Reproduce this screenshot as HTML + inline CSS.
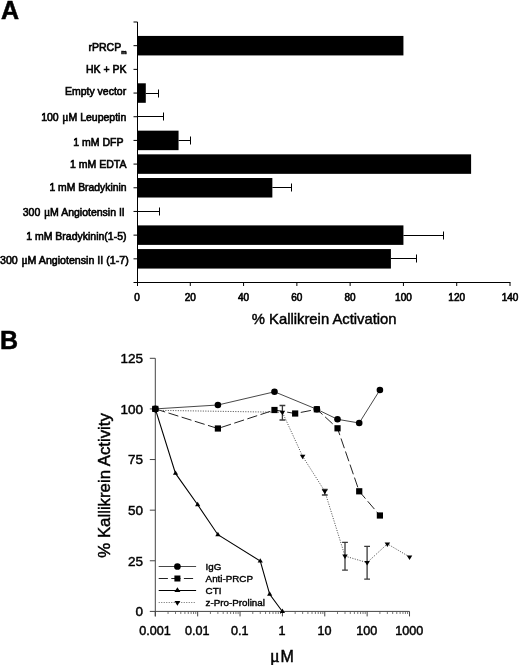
<!DOCTYPE html>
<html><head><meta charset="utf-8"><title>Figure</title>
<style>html,body{margin:0;padding:0;background:#fff}svg{display:block;filter:blur(0.4px)}text{font-family:"Liberation Sans",Arial,sans-serif;fill:#000}.s{stroke:#000;stroke-width:0.6px;paint-order:stroke}.b{stroke:#000;stroke-width:0.5px;paint-order:stroke}.l{stroke:#000;stroke-width:0.4px;paint-order:stroke}.t{stroke:#000;stroke-width:0.45px;paint-order:stroke}.mu{font-family:"Liberation Serif","DejaVu Serif",serif}</style></head><body>
<svg width="520" height="665" viewBox="0 0 520 665">
<rect width="520" height="665" fill="#fff"/>
<text class="b" x="1" y="19" font-size="25" font-weight="bold">A</text>
<g stroke="#000" stroke-width="1" fill="none">
<path d="M137.5 22.0 V286.0"/>
<path d="M133.5 282.5 H510.5"/>
<path d="M133.5 22.00 H137.5"/>
<path d="M133.5 45.68 H137.5"/>
<path d="M133.5 69.36 H137.5"/>
<path d="M133.5 93.05 H137.5"/>
<path d="M133.5 116.73 H137.5"/>
<path d="M133.5 140.41 H137.5"/>
<path d="M133.5 164.09 H137.5"/>
<path d="M133.5 187.77 H137.5"/>
<path d="M133.5 211.45 H137.5"/>
<path d="M133.5 235.14 H137.5"/>
<path d="M133.5 258.82 H137.5"/>
<path d="M190.29 282.5 V286.0"/>
<path d="M243.57 282.5 V286.0"/>
<path d="M296.86 282.5 V286.0"/>
<path d="M350.14 282.5 V286.0"/>
<path d="M403.43 282.5 V286.0"/>
<path d="M456.71 282.5 V286.0"/>
<path d="M510.00 282.5 V286.0"/>
</g>
<rect x="137" y="35.93" width="266.43" height="19.5" fill="#000"/>
<rect x="137" y="83.30" width="8.79" height="19.5" fill="#000"/>
<path d="M145.79 93.50 H158.50 M158.50 89.50 V97.50" stroke="#000" stroke-width="1" fill="none"/>
<path d="M137.00 116.50 H163.50 M163.50 112.50 V120.50" stroke="#000" stroke-width="1" fill="none"/>
<rect x="137" y="130.66" width="41.56" height="19.5" fill="#000"/>
<path d="M178.56 140.50 H190.50 M190.50 136.50 V144.50" stroke="#000" stroke-width="1" fill="none"/>
<rect x="137" y="154.34" width="334.10" height="19.5" fill="#000"/>
<rect x="137" y="178.02" width="135.35" height="19.5" fill="#000"/>
<path d="M272.35 187.50 H291.50 M291.50 183.50 V191.50" stroke="#000" stroke-width="1" fill="none"/>
<path d="M137.00 211.50 H159.50 M159.50 207.50 V215.50" stroke="#000" stroke-width="1" fill="none"/>
<rect x="137" y="225.39" width="266.43" height="19.5" fill="#000"/>
<path d="M403.43 235.50 H443.50 M443.50 231.50 V239.50" stroke="#000" stroke-width="1" fill="none"/>
<rect x="137" y="249.07" width="253.91" height="19.5" fill="#000"/>
<path d="M390.91 258.50 H416.50 M416.50 254.50 V262.50" stroke="#000" stroke-width="1" fill="none"/>
<text class="s" x="126.5" y="50.8" font-size="10.5" text-anchor="end">rPRCP<tspan font-size="6" font-weight="bold" dy="2.9">m</tspan></text>
<text class="s" x="126.5" y="73.1" font-size="10.5" text-anchor="end">HK + PK</text>
<text class="s" x="126.2" y="94.6" font-size="10.5" text-anchor="end">Empty vector</text>
<text class="s" x="126.3" y="120.8" font-size="10.5" text-anchor="end">100 <tspan class="mu" font-size="11.5" dx="0.7">μ</tspan>M Leupeptin</text>
<text class="s" x="123.5" y="145.5" font-size="10.5" text-anchor="end">1 mM DFP</text>
<text class="s" x="126.5" y="167.8" font-size="10.5" text-anchor="end">1 mM EDTA</text>
<text class="s" x="126.5" y="191.3" font-size="10.35" text-anchor="end">1 mM Bradykinin</text>
<text class="s" x="124.8" y="215.5" font-size="10.5" text-anchor="end">300 <tspan class="mu" font-size="11.5" dx="0.7">μ</tspan>M Angiotensin II</text>
<text class="s" x="126.5" y="239.6" font-size="10.5" text-anchor="end">1 mM Bradykinin(1-5)</text>
<text class="s" x="128.7" y="263.9" font-size="10.65" text-anchor="end">300 <tspan class="mu" font-size="11.5" dx="0.7">μ</tspan>M Angiotensin II (1-7)</text>
<text class="s" x="137.00" y="300.8" font-size="10" text-anchor="middle">0</text>
<text class="s" x="190.29" y="300.8" font-size="10" text-anchor="middle">20</text>
<text class="s" x="243.57" y="300.8" font-size="10" text-anchor="middle">40</text>
<text class="s" x="296.86" y="300.8" font-size="10" text-anchor="middle">60</text>
<text class="s" x="350.14" y="300.8" font-size="10" text-anchor="middle">80</text>
<text class="s" x="403.43" y="300.8" font-size="10" text-anchor="middle">100</text>
<text class="s" x="456.71" y="300.8" font-size="10" text-anchor="middle">120</text>
<text class="s" x="510.00" y="300.8" font-size="10" text-anchor="middle">140</text>
<text class="t" x="324.2" y="323.6" font-size="14.8" text-anchor="middle">% Kallikrein Activation</text>
<text class="b" x="0" y="348.6" font-size="25" font-weight="bold">B</text>
<g stroke="#444" stroke-width="1" fill="none">
<path d="M155.3 358.30 V616.4"/>
<path d="M149.8 611.4 H409.52"/>
<path d="M149.8 560.78 H155.3"/>
<path d="M149.8 510.16 H155.3"/>
<path d="M149.8 459.54 H155.3"/>
<path d="M149.8 408.92 H155.3"/>
<path d="M149.8 358.30 H155.3"/>
<path d="M155.30 611.4 V616.4"/>
<path d="M197.67 611.4 V616.4"/>
<path d="M240.04 611.4 V616.4"/>
<path d="M282.41 611.4 V616.4"/>
<path d="M324.78 611.4 V616.4"/>
<path d="M367.15 611.4 V616.4"/>
<path d="M409.52 611.4 V616.4"/>
</g>
<g stroke="#555" stroke-width="0.8" fill="none">
<path d="M168.05 611.4 V614.0"/>
<path d="M175.52 611.4 V614.0"/>
<path d="M180.81 611.4 V614.0"/>
<path d="M184.92 611.4 V614.0"/>
<path d="M188.27 611.4 V614.0"/>
<path d="M191.11 611.4 V614.0"/>
<path d="M193.56 611.4 V614.0"/>
<path d="M195.73 611.4 V614.0"/>
<path d="M210.42 611.4 V614.0"/>
<path d="M217.89 611.4 V614.0"/>
<path d="M223.18 611.4 V614.0"/>
<path d="M227.29 611.4 V614.0"/>
<path d="M230.64 611.4 V614.0"/>
<path d="M233.48 611.4 V614.0"/>
<path d="M235.93 611.4 V614.0"/>
<path d="M238.10 611.4 V614.0"/>
<path d="M252.79 611.4 V614.0"/>
<path d="M260.26 611.4 V614.0"/>
<path d="M265.55 611.4 V614.0"/>
<path d="M269.66 611.4 V614.0"/>
<path d="M273.01 611.4 V614.0"/>
<path d="M275.85 611.4 V614.0"/>
<path d="M278.30 611.4 V614.0"/>
<path d="M280.47 611.4 V614.0"/>
<path d="M295.16 611.4 V614.0"/>
<path d="M302.63 611.4 V614.0"/>
<path d="M307.92 611.4 V614.0"/>
<path d="M312.03 611.4 V614.0"/>
<path d="M315.38 611.4 V614.0"/>
<path d="M318.22 611.4 V614.0"/>
<path d="M320.67 611.4 V614.0"/>
<path d="M322.84 611.4 V614.0"/>
<path d="M337.53 611.4 V614.0"/>
<path d="M345.00 611.4 V614.0"/>
<path d="M350.29 611.4 V614.0"/>
<path d="M354.40 611.4 V614.0"/>
<path d="M357.75 611.4 V614.0"/>
<path d="M360.59 611.4 V614.0"/>
<path d="M363.04 611.4 V614.0"/>
<path d="M365.21 611.4 V614.0"/>
<path d="M379.90 611.4 V614.0"/>
<path d="M387.37 611.4 V614.0"/>
<path d="M392.66 611.4 V614.0"/>
<path d="M396.77 611.4 V614.0"/>
<path d="M400.12 611.4 V614.0"/>
<path d="M402.96 611.4 V614.0"/>
<path d="M405.41 611.4 V614.0"/>
<path d="M407.58 611.4 V614.0"/>
</g>
<text class="t" x="143" y="616.20" font-size="13.5" text-anchor="end">0</text>
<text class="t" x="143" y="565.58" font-size="13.5" text-anchor="end">25</text>
<text class="t" x="143" y="514.96" font-size="13.5" text-anchor="end">50</text>
<text class="t" x="143" y="464.34" font-size="13.5" text-anchor="end">75</text>
<text class="t" x="143" y="413.72" font-size="13.5" text-anchor="end">100</text>
<text class="t" x="143" y="363.10" font-size="13.5" text-anchor="end">125</text>
<text class="t" x="155.00" y="635" font-size="12.6" text-anchor="middle">0.001</text>
<text class="t" x="197.37" y="635" font-size="12.6" text-anchor="middle">0.01</text>
<text class="t" x="239.74" y="635" font-size="12.6" text-anchor="middle">0.1</text>
<text class="t" x="282.11" y="635" font-size="12.6" text-anchor="middle">1</text>
<text class="t" x="324.48" y="635" font-size="12.6" text-anchor="middle">10</text>
<text class="t" x="366.85" y="635" font-size="12.6" text-anchor="middle">100</text>
<text class="t" x="409.22" y="635" font-size="12.6" text-anchor="middle">1000</text>
<text class="t" transform="translate(109.8 485.4) rotate(-90)" font-size="16.8" text-anchor="middle">% Kallikrein Activity</text>
<text class="t" x="270" y="661.5" font-size="16"><tspan class="mu" font-size="18">μ</tspan><tspan dx="0.9">M</tspan></text>
<path d="M155.3 408.9 L217.9 405.0 L274.5 391.8 L316.9 409.3 L337.5 419.3 L359.2 423.0 L379.9 390.0" stroke="#333" stroke-width="0.9" fill="none"/>
<path d="M155.3 408.9 L217.9 428.5 L274.5 410.0 L295.2 413.5 L316.9 409.3 L337.5 428.3 L359.2 491.3 L379.9 515.5" stroke="#222" stroke-width="1" fill="none" stroke-dasharray="10.3 3.5"/>
<path d="M155.3 408.9 L175.5 473.4 L197.7 504.8 L217.9 534.7 L260.3 561.1 L269.7 594.3 L282.4 611.5" stroke="#000" stroke-width="1.1" fill="none"/>
<path d="M155.3 410.3 L282.4 412.3 L302.6 456.3 L324.8 491.3 L345.0 556.1 L367.1 562.6 L387.4 543.9 L409.5 556.9" stroke="#444" stroke-width="0.9" fill="none" stroke-dasharray="1.1 1.4"/>
<path d="M282.4 405.5 V420 M279.5 405.5 h5.8 M279.5 420 h5.8" stroke="#3a3a3a" stroke-width="1.3" fill="none"/>
<path d="M324.8 489.5 V495 M321.9 489.5 h5.8 M321.9 495 h5.8" stroke="#3a3a3a" stroke-width="1.3" fill="none"/>
<path d="M345.0 542.3 V570.1 M342.1 542.3 h5.8 M342.1 570.1 h5.8" stroke="#3a3a3a" stroke-width="1.3" fill="none"/>
<path d="M367.1 546.4 V579.1 M364.2 546.4 h5.8 M364.2 579.1 h5.8" stroke="#3a3a3a" stroke-width="1.3" fill="none"/>
<circle cx="155.3" cy="408.9" r="3.3" fill="#000"/>
<circle cx="217.9" cy="405.0" r="3.3" fill="#000"/>
<circle cx="274.5" cy="391.8" r="3.3" fill="#000"/>
<circle cx="316.9" cy="409.3" r="3.3" fill="#000"/>
<circle cx="337.5" cy="419.3" r="3.3" fill="#000"/>
<circle cx="359.2" cy="423.0" r="3.3" fill="#000"/>
<circle cx="379.9" cy="390.0" r="3.3" fill="#000"/>
<rect x="152.20" y="405.82" width="6.2" height="6.2" fill="#000"/>
<rect x="214.79" y="425.40" width="6.2" height="6.2" fill="#000"/>
<rect x="271.38" y="406.90" width="6.2" height="6.2" fill="#000"/>
<rect x="292.06" y="410.40" width="6.2" height="6.2" fill="#000"/>
<rect x="313.75" y="406.20" width="6.2" height="6.2" fill="#000"/>
<rect x="334.43" y="425.20" width="6.2" height="6.2" fill="#000"/>
<rect x="356.12" y="488.20" width="6.2" height="6.2" fill="#000"/>
<rect x="376.80" y="512.40" width="6.2" height="6.2" fill="#000"/>
<path d="M152.70 410.39 L157.90 410.39 L155.30 405.99Z" fill="#000"/>
<path d="M172.92 474.87 L178.12 474.87 L175.52 470.47Z" fill="#000"/>
<path d="M195.07 506.27 L200.27 506.27 L197.67 501.87Z" fill="#000"/>
<path d="M215.29 536.17 L220.49 536.17 L217.89 531.77Z" fill="#000"/>
<path d="M257.66 562.57 L262.86 562.57 L260.26 558.17Z" fill="#000"/>
<path d="M267.06 595.77 L272.26 595.77 L269.66 591.37Z" fill="#000"/>
<path d="M279.81 612.97 L285.01 612.97 L282.41 608.57Z" fill="#000"/>
<path d="M152.55 408.80 L158.05 408.80 L155.30 413.30Z" fill="#000"/>
<path d="M279.66 410.80 L285.16 410.80 L282.41 415.30Z" fill="#000"/>
<path d="M299.88 454.80 L305.38 454.80 L302.63 459.30Z" fill="#000"/>
<path d="M322.03 489.80 L327.53 489.80 L324.78 494.30Z" fill="#000"/>
<path d="M342.25 554.60 L347.75 554.60 L345.00 559.10Z" fill="#000"/>
<path d="M364.40 561.10 L369.90 561.10 L367.15 565.60Z" fill="#000"/>
<path d="M384.62 542.40 L390.12 542.40 L387.37 546.90Z" fill="#000"/>
<path d="M406.77 555.40 L412.27 555.40 L409.52 559.90Z" fill="#000"/>
<path d="M158.7 566.5 H196.1" stroke="#333" stroke-width="0.9" fill="none"/>
<path d="M158.7 578.5 H196.1" stroke="#222" stroke-width="1" fill="none" stroke-dasharray="9.2 3.4"/>
<path d="M158.7 590.5 H196.1" stroke="#000" stroke-width="1.1" fill="none"/>
<path d="M158.7 602.5 H196.1" stroke="#666" stroke-width="0.9" fill="none" stroke-dasharray="1.1 1.4"/>
<circle cx="177.4" cy="566.5" r="3.35" fill="#000"/>
<rect x="174.40" y="575.50" width="6.0" height="6.0" fill="#000"/>
<path d="M174.40 592.10 L180.40 592.10 L177.40 587.30Z" fill="#000"/>
<path d="M174.50 600.90 L180.30 600.90 L177.40 605.70Z" fill="#000"/>
<text class="l" x="205.6" y="569.8" font-size="9.8">IgG</text>
<text class="l" x="205.6" y="581.7" font-size="9.8">Anti-PRCP</text>
<text class="l" x="205.6" y="593.7" font-size="9.8">CTI</text>
<text class="l" x="205.6" y="605.8" font-size="9.8">z-Pro-Prolinal</text>
</svg></body></html>
